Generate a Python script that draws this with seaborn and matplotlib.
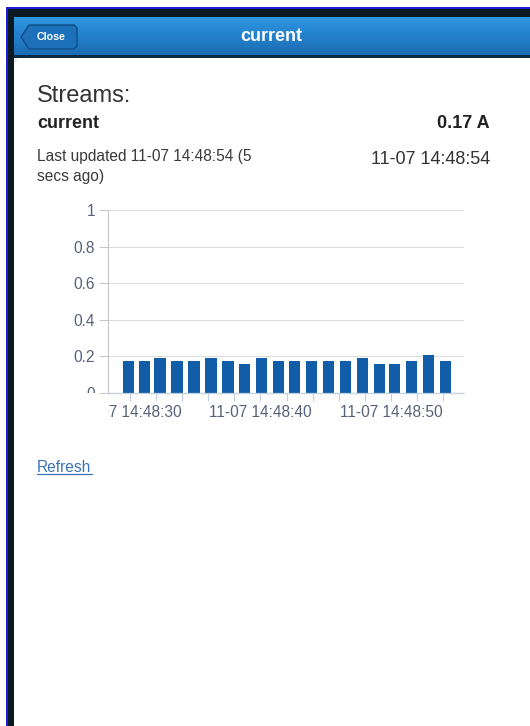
import numpy as np
import pandas as pd
import matplotlib
matplotlib.use("Agg")
import matplotlib.pyplot as plt
import seaborn as sns
from matplotlib.patches import Rectangle, Polygon
from matplotlib.colors import LinearSegmentedColormap
from matplotlib.transforms import Bbox

# ---------------- data ----------------
sample_seconds = [29.9, 31.1, 32.3, 33.6, 34.9, 36.2, 37.5, 38.8, 40.1, 41.4,
                  42.6, 43.9, 45.2, 46.5, 47.8, 49.1, 50.3, 51.6, 52.9, 54.2]
current_amps = [0.176, 0.176, 0.19, 0.176, 0.176, 0.19, 0.176, 0.156, 0.19, 0.176,
                0.176, 0.176, 0.176, 0.176, 0.19, 0.156, 0.156, 0.176, 0.205, 0.176]
x_tick_seconds = [30, 32, 34, 36, 38, 40, 42, 44, 46, 48, 50, 52, 54]
x_tick_labels = ["11-07 14:48:30", "", "", "", "", "11-07 14:48:40", "", "", "", "",
                 "11-07 14:48:50", "", ""]
y_ticks = [0, 0.2, 0.4, 0.6, 0.8, 1]
y_tick_labels = ["0", "0.2", "0.4", "0.6", "0.8", "1"]

page_title = "current"
stream_name = "current"
stream_value = "0.17 A"
updated_line1 = "Last updated 11-07 14:48:54 (5"
updated_line2 = "secs ago)"
updated_right = "11-07 14:48:54"

df = pd.DataFrame({"t": sample_seconds, "amps": current_amps})

# ---------------- style ----------------
sns.set_theme(style="white")
plt.rcParams["font.family"] = ["Liberation Sans", "DejaVu Sans"]

W, H = 530, 726
fig = plt.figure(figsize=(W / 100, H / 100), dpi=100)
fig.patch.set_facecolor("white")

# background / page chrome drawn in pixel coordinates
bg = fig.add_axes([0, 0, 1, 1], zorder=0)
bg.set_xlim(0, W)
bg.set_ylim(H, 0)
bg.axis("off")

bg.add_patch(Rectangle((5.5, 7), 2, H, color="#1E1ED8", lw=0))
bg.add_patch(Rectangle((5.5, 7), W, 2, color="#1E1ED8", lw=0))
bg.add_patch(Rectangle((7.5, 9), 6, H, color="#0B1A22", lw=0))
bg.add_patch(Rectangle((7.5, 9), W, 8, color="#0B1A22", lw=0))

cmap = LinearSegmentedColormap.from_list("hdr", ["#2D96E2", "#2481CC", "#1B6CB2"])
grad = np.linspace(0, 1, 64).reshape(-1, 1)
bg.imshow(grad, cmap=cmap, extent=[13.5, W + 2, 55, 17], aspect="auto", zorder=1)
bg.add_patch(Rectangle((13.5, 55), W, 3, color="#0E2B45", lw=0, zorder=2))
bg.add_patch(Rectangle((13.5, 60), W, H, fc="white", ec="none", lw=0, zorder=2))
bg.add_patch(Rectangle((16, 58), W, 4, fc="white", ec="none", lw=0, zorder=2))
bg.add_patch(Rectangle((14.2, 58.6), 3, 3, fc="#E8ECEF", ec="none", lw=0, zorder=2))

btn = Polygon([(21, 37), (29, 25), (74, 25), (77, 28), (77, 46), (74, 49), (29, 49)],
              closed=True, fc="#1D71BA", ec="#0F4C86", lw=1.0, zorder=3)
bg.add_patch(btn)
bg.text(51.5, 37, "Close", color="white", fontsize=7.7, fontweight="bold",
        ha="center", va="center", zorder=4)
bg.text(271, 36.5, page_title, color="white", fontsize=13, fontweight="bold",
        ha="center", va="center", zorder=4)

bg.text(37, 102, "Streams:", color="#333333", fontsize=17, ha="left", va="baseline", zorder=4)
bg.text(37, 128.5, stream_name, color="#222222", fontsize=13, fontweight="bold",
        ha="left", va="baseline", zorder=4)
bg.text(490, 128.5, stream_value, color="#222222", fontsize=13, fontweight="bold",
        ha="right", va="baseline", zorder=4)
bg.text(37, 161.5, updated_line1, color="#3A3A3A", fontsize=11.2, ha="left",
        va="baseline", zorder=4)
bg.text(37, 181.5, updated_line2, color="#3A3A3A", fontsize=11.2, ha="left",
        va="baseline", zorder=4)
bg.text(490, 164, updated_right, color="#333333", fontsize=13, ha="right",
        va="baseline", zorder=4)
bg.text(37, 471.5, "Refresh", color="#3B73B9", fontsize=11.2, ha="left",
        va="baseline", zorder=4)
bg.plot([37, 92], [474, 474], color="#3B73B9", lw=0.9, zorder=4)

# white strip on the right edge of the content area (figure level)
fig.add_artist(Rectangle((515 / W, 0), 20 / W, (H - 60) / H, transform=fig.transFigure,
                         fc="white", ec="none", lw=0, zorder=1))

# ---------------- chart ----------------
ax = fig.add_axes([108 / W, (H - 393) / H, 356 / W, 183 / H], zorder=5)
ax.patch.set_alpha(0)
sns.barplot(data=df, x="t", y="amps", native_scale=True, color="#125DA8",
            saturation=1, width=0.72, linewidth=0, errorbar=None, ax=ax)

ax.set_xlim(28.31, 55.6)
ax.set_ylim(0, 1)
ax.set_xlabel("")
ax.set_ylabel("")
ax.set_axisbelow(True)
ax.yaxis.grid(True, color="#DCDCDC", lw=0.8)
ax.xaxis.grid(False)
for s in ("top", "right"):
    ax.spines[s].set_visible(False)
ax.spines["left"].set_color("#C8C8C8")
ax.spines["left"].set_linewidth(0.8)
ax.spines["bottom"].set_color("#C0D0E0")
ax.spines["bottom"].set_linewidth(0.9)

ax.set_xticks(x_tick_seconds, labels=x_tick_labels)
ax.set_yticks(y_ticks, labels=y_tick_labels)
ax.tick_params(axis="x", bottom=True, length=5.5, width=0.8, color="#C0D0E0",
               labelsize=11.2, labelcolor="#56627A", pad=3)
ax.tick_params(axis="y", left=True, length=6.3, width=0.8, color="#C8C8C8",
               labelsize=11.2, labelcolor="#56627A", pad=3)

xclip = Bbox.from_extents(108, 0, W, H)
for lbl in ax.get_xticklabels():
    lbl.set_clip_on(True)
    lbl.set_clip_box(xclip)
yclip = Bbox.from_extents(0, H - 393, W, H)
for lbl in ax.get_yticklabels():
    lbl.set_clip_on(True)
    lbl.set_clip_box(yclip)

fig.savefig("out.png", dpi=100)
